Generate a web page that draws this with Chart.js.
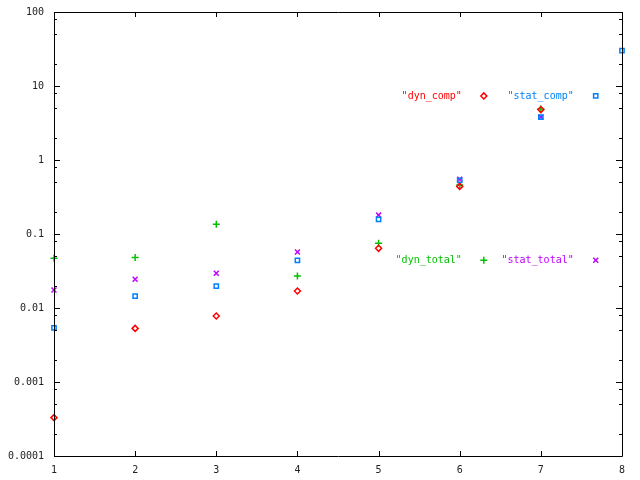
<!DOCTYPE html>
<html>
<head>
<meta charset="utf-8">
<script src="https://cdn.jsdelivr.net/npm/chart.js@4/dist/chart.umd.min.js"></script>
<style>
  html, body { margin: 0; padding: 0; background: #fff; }
  #wrap { width: 640px; height: 480px; }
</style>
</head>
<body>
<div id="wrap"><canvas id="plot"></canvas></div>
<script>
// values
const xs = [1, 2, 3, 4, 5, 6, 7, 8];
const dynComp   = [0.00033, 0.0053, 0.0078, 0.017, 0.064, 0.44, 4.8, null];
const statComp  = [0.0054, 0.0145, 0.0198, 0.044, 0.158, 0.53, 3.8, 30];
const dynTotal  = [0.047, 0.048, 0.135, 0.027, 0.075, 0.46, 4.9, null];
const statTotal = [0.0175, 0.0245, 0.0295, 0.057, 0.18, 0.55, 3.8, null];
const seriesNames = ['dyn_comp', 'stat_comp', 'dyn_total', 'stat_total'];
const yTicks = [0.0001, 0.001, 0.01, 0.1, 1, 10, 100];
const yTickLabels = ['0.0001', '0.001', '0.01', '0.1', '1', '10', '100'];

const colors = ['#ff0000', '#0080ff', '#00c000', '#c000ff'];
const styles = ['rectRot', 'rect', 'cross', 'crossRot'];
const radii = [3, 3, 3.5, 3.5];

function pts(vals) {
    return xs.map((x, i) => ({ x: x, y: vals[i] })).filter(p => p.y !== null);
}

const allSeries = [dynComp, statComp, dynTotal, statTotal];
const datasets = allSeries.map((vals, i) => ({
    label: seriesNames[i],
    data: pts(vals),
    showLine: false,
    pointStyle: styles[i],
    pointRadius: radii[i],
    pointBorderWidth: 1.5,
    borderColor: colors[i],
    backgroundColor: 'rgba(0,0,0,0)',
    pointBackgroundColor: 'rgba(0,0,0,0)',
    clip: 4
}));

// gnuplot-like frame, inward ticks and key
const framePlugin = {
    id: 'frame',
    afterDatasetsDraw(chart) {
        const ctx = chart.ctx;
        const a = chart.chartArea;
        const xs_ = chart.scales.x, ys = chart.scales.y;
        ctx.save();
        ctx.strokeStyle = '#000';
        ctx.lineWidth = 1;
        ctx.beginPath();
        ctx.rect(Math.round(a.left) + 0.5, Math.round(a.top) + 0.5,
                 Math.round(a.right - a.left), Math.round(a.bottom - a.top));
        // y ticks, major and minor (2, 5, 8)
        yTicks.forEach((t, k) => {
            const y = Math.round(ys.getPixelForValue(t)) + 0.5;
            ctx.moveTo(a.left, y); ctx.lineTo(a.left + 6, y);
            ctx.moveTo(a.right, y); ctx.lineTo(a.right - 6, y);
            if (k < yTicks.length - 1) {
                [2, 5, 8].forEach(m => {
                    const ym = Math.round(ys.getPixelForValue(t * m)) + 0.5;
                    ctx.moveTo(a.left, ym); ctx.lineTo(a.left + 3, ym);
                    ctx.moveTo(a.right, ym); ctx.lineTo(a.right - 3, ym);
                });
            }
        });
        xs.forEach(t => {
            const x = Math.round(xs_.getPixelForValue(t)) + 0.5;
            ctx.moveTo(x, a.bottom); ctx.lineTo(x, a.bottom - 5);
            ctx.moveTo(x, a.top); ctx.lineTo(x, a.top + 5);
        });
        ctx.stroke();

        // key
        const w = a.right - a.left, h = a.bottom - a.top;
        const cols = [0.718, 0.915];
        const rows = [0.189, 0.559];
        ctx.font = '10px "DejaVu Sans Mono"';
        ctx.textAlign = 'right';
        ctx.textBaseline = 'middle';
        seriesNames.forEach((name, i) => {
            const cx = a.left + w * cols[i % 2];
            const cy = a.top + h * rows[Math.floor(i / 2)];
            ctx.fillStyle = colors[i];
            ctx.fillText('"' + name + '"', cx, cy);
            ctx.strokeStyle = colors[i];
            ctx.fillStyle = 'rgba(0,0,0,0)';
            ctx.lineWidth = 1.5;
            Chart.helpers.drawPoint(ctx, {
                pointStyle: styles[i], radius: radii[i], borderWidth: 1.5
            }, cx + 22, cy);
        });
        ctx.restore();
    }
};

new Chart(document.getElementById('plot'), {
    type: 'scatter',
    data: { datasets: datasets },
    options: {
        responsive: true,
        maintainAspectRatio: false,
        animation: false,
        layout: { padding: { top: 12, right: 18, left: 0, bottom: 0 } },
        plugins: {
            legend: { display: false },
            tooltip: { enabled: false }
        },
        scales: {
            x: {
                type: 'linear',
                min: 1,
                max: 8,
                grid: { display: false },
                border: { display: false },
                afterBuildTicks: s => { s.ticks = xs.map(v => ({ value: v })); },
                afterFit: s => { s.height = 24; },
                ticks: {
                    color: '#222',
                    padding: 0,
                    maxRotation: 0,
                    font: { family: '"DejaVu Sans Mono"', size: 10 },
                    callback: v => String(v)
                }
            },
            y: {
                type: 'logarithmic',
                min: 0.0001,
                max: 100,
                grid: { display: false },
                border: { display: false },
                afterBuildTicks: s => { s.ticks = yTicks.map(v => ({ value: v })); },
                afterFit: s => { s.width = 54; },
                ticks: {
                    color: '#222',
                    padding: 2,
                    font: { family: '"DejaVu Sans Mono"', size: 10 },
                    callback: v => {
                        const k = yTicks.indexOf(v);
                        return k >= 0 ? yTickLabels[k] : '';
                    }
                }
            }
        }
    },
    plugins: [framePlugin]
});
</script>
</body>
</html>
